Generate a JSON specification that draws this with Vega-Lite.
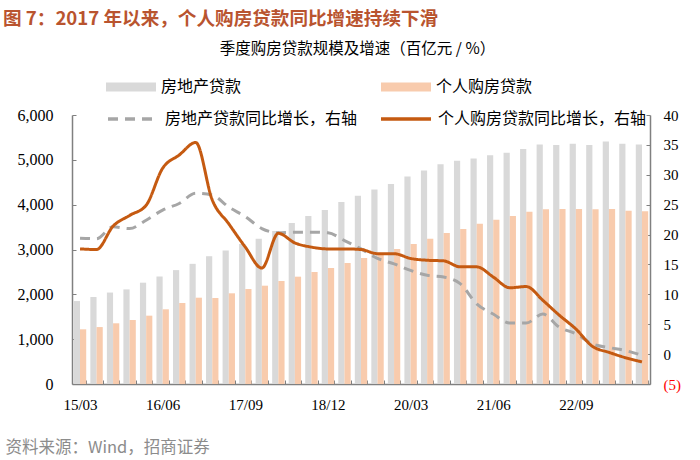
{
  "$schema": "https://vega.github.io/schema/vega-lite/v6.json",
  "width": 578,
  "height": 269,
  "autosize": {"type": "none"},
  "padding": {"left": 72, "top": 115, "right": 50, "bottom": 76},
  "background": "white",
  "config": {
    "view": {"stroke": null},
    "font": "Noto Sans CJK SC"
  },
  "title": {
    "text": "图 7：2017 年以来，个人购房贷款同比增速持续下滑",
    "anchor": "start",
    "frame": "group",
    "dx": -69,
    "offset": 12,
    "font": "Noto Sans CJK SC",
    "fontSize": 18.6,
    "fontWeight": "bold",
    "color": "#b9542f"
  },
  "datasets": {
    "bars": [
      {"q": "15/03", "series": "房地产贷款", "value": 1850}, {"q": "15/03", "series": "个人购房贷款", "value": 1220},
      {"q": "15/06", "series": "房地产贷款", "value": 1940}, {"q": "15/06", "series": "个人购房贷款", "value": 1270},
      {"q": "15/09", "series": "房地产贷款", "value": 2040}, {"q": "15/09", "series": "个人购房贷款", "value": 1354},
      {"q": "15/12", "series": "房地产贷款", "value": 2110}, {"q": "15/12", "series": "个人购房贷款", "value": 1428},
      {"q": "16/03", "series": "房地产贷款", "value": 2260}, {"q": "16/03", "series": "个人购房贷款", "value": 1524},
      {"q": "16/06", "series": "房地产贷款", "value": 2400}, {"q": "16/06", "series": "个人购房贷款", "value": 1666},
      {"q": "16/09", "series": "房地产贷款", "value": 2540}, {"q": "16/09", "series": "个人购房贷款", "value": 1807},
      {"q": "16/12", "series": "房地产贷款", "value": 2680}, {"q": "16/12", "series": "个人购房贷款", "value": 1925},
      {"q": "17/03", "series": "房地产贷款", "value": 2850}, {"q": "17/03", "series": "个人购房贷款", "value": 1918},
      {"q": "17/06", "series": "房地产贷款", "value": 2980}, {"q": "17/06", "series": "个人购房贷款", "value": 2023},
      {"q": "17/09", "series": "房地产贷款", "value": 3120}, {"q": "17/09", "series": "个人购房贷款", "value": 2119},
      {"q": "17/12", "series": "房地产贷款", "value": 3240}, {"q": "17/12", "series": "个人购房贷款", "value": 2193},
      {"q": "18/03", "series": "房地产贷款", "value": 3410}, {"q": "18/03", "series": "个人购房贷款", "value": 2298},
      {"q": "18/06", "series": "房地产贷款", "value": 3590}, {"q": "18/06", "series": "个人购房贷款", "value": 2394},
      {"q": "18/09", "series": "房地产贷款", "value": 3750}, {"q": "18/09", "series": "个人购房贷款", "value": 2498},
      {"q": "18/12", "series": "房地产贷款", "value": 3880}, {"q": "18/12", "series": "个人购房贷款", "value": 2588},
      {"q": "19/03", "series": "房地产贷款", "value": 4060}, {"q": "19/03", "series": "个人购房贷款", "value": 2699},
      {"q": "19/06", "series": "房地产贷款", "value": 4200}, {"q": "19/06", "series": "个人购房贷款", "value": 2811},
      {"q": "19/09", "series": "房地产贷款", "value": 4340}, {"q": "19/09", "series": "个人购房贷款", "value": 2910},
      {"q": "19/12", "series": "房地产贷款", "value": 4460}, {"q": "19/12", "series": "个人购房贷款", "value": 3011},
      {"q": "20/03", "series": "房地产贷款", "value": 4630}, {"q": "20/03", "series": "个人购房贷款", "value": 3123},
      {"q": "20/06", "series": "房地产贷款", "value": 4760}, {"q": "20/06", "series": "个人购房贷款", "value": 3242},
      {"q": "20/09", "series": "房地产贷款", "value": 4900}, {"q": "20/09", "series": "个人购房贷款", "value": 3368},
      {"q": "20/12", "series": "房地产贷款", "value": 4980}, {"q": "20/12", "series": "个人购房贷款", "value": 3458},
      {"q": "21/03", "series": "房地产贷款", "value": 5030}, {"q": "21/03", "series": "个人购房贷款", "value": 3576},
      {"q": "21/06", "series": "房地产贷款", "value": 5100}, {"q": "21/06", "series": "个人购房贷款", "value": 3665},
      {"q": "21/09", "series": "房地产贷款", "value": 5160}, {"q": "21/09", "series": "个人购房贷款", "value": 3748},
      {"q": "21/12", "series": "房地产贷款", "value": 5240}, {"q": "21/12", "series": "个人购房贷款", "value": 3844},
      {"q": "22/03", "series": "房地产贷款", "value": 5340}, {"q": "22/03", "series": "个人购房贷款", "value": 3897},
      {"q": "22/06", "series": "房地产贷款", "value": 5330}, {"q": "22/06", "series": "个人购房贷款", "value": 3904},
      {"q": "22/09", "series": "房地产贷款", "value": 5360}, {"q": "22/09", "series": "个人购房贷款", "value": 3904},
      {"q": "22/12", "series": "房地产贷款", "value": 5330}, {"q": "22/12", "series": "个人购房贷款", "value": 3897},
      {"q": "23/03", "series": "房地产贷款", "value": 5410}, {"q": "23/03", "series": "个人购房贷款", "value": 3904},
      {"q": "23/06", "series": "房地产贷款", "value": 5360}, {"q": "23/06", "series": "个人购房贷款", "value": 3866},
      {"q": "23/09", "series": "房地产贷款", "value": 5340}, {"q": "23/09", "series": "个人购房贷款", "value": 3852}
    ],
    "lines": [
      {"q": "15/03", "series": "房地产贷款同比增长，右轴", "value": 19.4}, {"q": "15/03", "series": "个人购房贷款同比增长，右轴", "value": 17.6},
      {"q": "15/06", "series": "房地产贷款同比增长，右轴", "value": 19.3}, {"q": "15/06", "series": "个人购房贷款同比增长，右轴", "value": 17.5},
      {"q": "15/09", "series": "房地产贷款同比增长，右轴", "value": 21.3}, {"q": "15/09", "series": "个人购房贷款同比增长，右轴", "value": 21.4},
      {"q": "15/12", "series": "房地产贷款同比增长，右轴", "value": 21.0}, {"q": "15/12", "series": "个人购房贷款同比增长，右轴", "value": 23.2},
      {"q": "16/03", "series": "房地产贷款同比增长，右轴", "value": 22.4}, {"q": "16/03", "series": "个人购房贷款同比增长，右轴", "value": 24.9},
      {"q": "16/06", "series": "房地产贷款同比增长，右轴", "value": 24.1}, {"q": "16/06", "series": "个人购房贷款同比增长，右轴", "value": 31.1},
      {"q": "16/09", "series": "房地产贷款同比增长，右轴", "value": 25.2}, {"q": "16/09", "series": "个人购房贷款同比增长，右轴", "value": 33.3},
      {"q": "16/12", "series": "房地产贷款同比增长，右轴", "value": 26.9}, {"q": "16/12", "series": "个人购房贷款同比增长，右轴", "value": 35.4},
      {"q": "17/03", "series": "房地产贷款同比增长，右轴", "value": 26.6}, {"q": "17/03", "series": "个人购房贷款同比增长，右轴", "value": 25.8},
      {"q": "17/06", "series": "房地产贷款同比增长，右轴", "value": 24.6}, {"q": "17/06", "series": "个人购房贷款同比增长，右轴", "value": 21.8},
      {"q": "17/09", "series": "房地产贷款同比增长，右轴", "value": 23.0}, {"q": "17/09", "series": "个人购房贷款同比增长，右轴", "value": 17.9},
      {"q": "17/12", "series": "房地产贷款同比增长，右轴", "value": 21.0}, {"q": "17/12", "series": "个人购房贷款同比增长，右轴", "value": 14.4},
      {"q": "18/03", "series": "房地产贷款同比增长，右轴", "value": 20.3}, {"q": "18/03", "series": "个人购房贷款同比增长，右轴", "value": 20.2},
      {"q": "18/06", "series": "房地产贷款同比增长，右轴", "value": 20.4}, {"q": "18/06", "series": "个人购房贷款同比增长，右轴", "value": 18.6},
      {"q": "18/09", "series": "房地产贷款同比增长，右轴", "value": 20.4}, {"q": "18/09", "series": "个人购房贷款同比增长，右轴", "value": 17.9},
      {"q": "18/12", "series": "房地产贷款同比增长，右轴", "value": 20.3}, {"q": "18/12", "series": "个人购房贷款同比增长，右轴", "value": 17.6},
      {"q": "19/03", "series": "房地产贷款同比增长，右轴", "value": 19.0}, {"q": "19/03", "series": "个人购房贷款同比增长，右轴", "value": 17.6},
      {"q": "19/06", "series": "房地产贷款同比增长，右轴", "value": 17.6}, {"q": "19/06", "series": "个人购房贷款同比增长，右轴", "value": 17.5},
      {"q": "19/09", "series": "房地产贷款同比增长，右轴", "value": 16.0}, {"q": "19/09", "series": "个人购房贷款同比增长，右轴", "value": 16.8},
      {"q": "19/12", "series": "房地产贷款同比增长，右轴", "value": 15.1}, {"q": "19/12", "series": "个人购房贷款同比增长，右轴", "value": 16.8},
      {"q": "20/03", "series": "房地产贷款同比增长，右轴", "value": 14.0}, {"q": "20/03", "series": "个人购房贷款同比增长，右轴", "value": 16.0},
      {"q": "20/06", "series": "房地产贷款同比增长，右轴", "value": 13.2}, {"q": "20/06", "series": "个人购房贷款同比增长，右轴", "value": 15.7},
      {"q": "20/09", "series": "房地产贷款同比增长，右轴", "value": 12.9}, {"q": "20/09", "series": "个人购房贷款同比增长，右轴", "value": 15.6},
      {"q": "20/12", "series": "房地产贷款同比增长，右轴", "value": 11.8}, {"q": "20/12", "series": "个人购房贷款同比增长，右轴", "value": 14.6},
      {"q": "21/03", "series": "房地产贷款同比增长，右轴", "value": 8.4}, {"q": "21/03", "series": "个人购房贷款同比增长，右轴", "value": 14.6},
      {"q": "21/06", "series": "房地产贷款同比增长，右轴", "value": 6.7}, {"q": "21/06", "series": "个人购房贷款同比增长，右轴", "value": 12.9},
      {"q": "21/09", "series": "房地产贷款同比增长，右轴", "value": 5.2}, {"q": "21/09", "series": "个人购房贷款同比增长，右轴", "value": 11.1},
      {"q": "21/12", "series": "房地产贷款同比增长，右轴", "value": 5.2}, {"q": "21/12", "series": "个人购房贷款同比增长，右轴", "value": 11.3},
      {"q": "22/03", "series": "房地产贷款同比增长，右轴", "value": 6.7}, {"q": "22/03", "series": "个人购房贷款同比增长，右轴", "value": 9.0},
      {"q": "22/06", "series": "房地产贷款同比增长，右轴", "value": 4.5}, {"q": "22/06", "series": "个人购房贷款同比增长，右轴", "value": 6.5},
      {"q": "22/09", "series": "房地产贷款同比增长，右轴", "value": 3.4}, {"q": "22/09", "series": "个人购房贷款同比增长，右轴", "value": 4.2},
      {"q": "22/12", "series": "房地产贷款同比增长，右轴", "value": 1.7}, {"q": "22/12", "series": "个人购房贷款同比增长，右轴", "value": 1.3},
      {"q": "23/03", "series": "房地产贷款同比增长，右轴", "value": 1.1}, {"q": "23/03", "series": "个人购房贷款同比增长，右轴", "value": 0.3},
      {"q": "23/06", "series": "房地产贷款同比增长，右轴", "value": 0.6}, {"q": "23/06", "series": "个人购房贷款同比增长，右轴", "value": -0.6},
      {"q": "23/09", "series": "房地产贷款同比增长，右轴", "value": -0.2}, {"q": "23/09", "series": "个人购房贷款同比增长，右轴", "value": -1.3}
    ]
  },
  "layer": [
    {
      "data": {"name": "bars"},
      "mark": {"type": "bar"},
      "encoding": {
        "x": {
          "field": "q",
          "type": "ordinal",
          "sort": null,
          "scale": {"type": "band", "paddingInner": 0.25, "paddingOuter": 0.11},
          "axis": {
            "orient": "bottom",
            "labelExpr": "indexof(['15/03','16/06','17/09','18/12','20/03','21/06','22/09'], datum.value) >= 0 ? datum.value : ''",
            "labelAngle": 0,
            "labelFont": "Liberation Serif",
            "labelFontSize": 15,
            "labelColor": "#000000",
            "labelPadding": 17,
            "tickBand": "extent",
            "tickSize": -4,
            "tickColor": "#808080",
            "domainColor": "#808080",
            "domainWidth": 1.5,
            "title": "资料来源：Wind，招商证券",
            "titleFont": "Noto Sans CJK SC",
            "titleFontSize": 16.5,
            "titleFontWeight": "normal",
            "titleColor": "#8c8c8c",
            "titleAlign": "left",
            "titleAnchor": "start",
            "titleBaseline": "middle",
            "titleX": -67,
            "titleY": 63
          }
        },
        "xOffset": {
          "field": "series",
          "type": "nominal",
          "sort": ["房地产贷款", "个人购房贷款"],
          "scale": {"paddingInner": 0, "paddingOuter": 0}
        },
        "y": {
          "field": "value",
          "type": "quantitative",
          "scale": {"domain": [0, 6000], "nice": false},
          "axis": {
            "orient": "left",
            "values": [0, 1000, 2000, 3000, 4000, 5000, 6000],
            "format": ",.0f",
            "grid": false,
            "title": null,
            "labelFont": "Liberation Serif",
            "labelFontSize": 16,
            "labelColor": "#000000",
            "labelPadding": 23,
            "tickSize": -4,
            "tickColor": "#808080",
            "domainColor": "#808080",
            "domainWidth": 1.5
          }
        },
        "fill": {
          "field": "series",
          "type": "nominal",
          "scale": {"domain": ["房地产贷款", "个人购房贷款"], "range": ["#d9d9d9", "#f8cbad"]},
          "legend": {
            "title": null,
            "orient": "none",
            "legendX": 34,
            "legendY": -53,
            "direction": "horizontal",
            "columns": 2,
            "columnPadding": 123,
            "gridAlign": "all",
            "symbolType": "M-1,-0.18H1V0.18H-1Z",
            "symbolSize": 2500,
            "symbolStrokeWidth": 0,
            "labelFont": "Noto Sans CJK SC",
            "labelFontSize": 16,
            "labelLimit": 400,
            "labelColor": "#000000",
            "labelOffset": 5
          }
        }
      }
    },
    {
      "data": {"name": "lines"},
      "mark": {"type": "line", "interpolate": "monotone", "strokeWidth": 3},
      "encoding": {
        "x": {
          "field": "q",
          "type": "ordinal",
          "sort": null,
          "scale": {"type": "band", "paddingInner": 0.25, "paddingOuter": 0.11},
          "axis": {
            "orient": "top",
            "labels": false,
            "ticks": false,
            "domain": false,
            "title": "季度购房贷款规模及增速（百亿元 / %）",
            "titleFont": "Noto Sans CJK SC",
            "titleFontSize": 15.5,
            "titleFontWeight": "normal",
            "titleColor": "#000000",
            "titleAlign": "center",
            "titleBaseline": "middle",
            "titleX": 285,
            "titleY": -67
          }
        },
        "y": {
          "field": "value",
          "type": "quantitative",
          "scale": {"domain": [-5, 40], "nice": false},
          "axis": {
            "orient": "right",
            "values": [-5, 0, 5, 10, 15, 20, 25, 30, 35, 40],
            "labelExpr": "datum.value < 0 ? '(' + abs(datum.value) + ')' : datum.value",
            "labelColor": {"condition": {"test": "datum.value < 0", "value": "#ff0000"}, "value": "#000000"},
            "grid": false,
            "title": null,
            "labelFont": "Liberation Serif",
            "labelFontSize": 15,
            "labelPadding": 17,
            "tickSize": -4,
            "tickColor": "#808080",
            "domainColor": "#808080",
            "domainWidth": 1.5
          }
        },
        "stroke": {
          "field": "series",
          "type": "nominal",
          "scale": {"domain": ["房地产贷款同比增长，右轴", "个人购房贷款同比增长，右轴"], "range": ["#a6a6a6", "#c55a11"]},
          "legend": {
            "title": null,
            "orient": "none",
            "legendX": 34,
            "legendY": -23,
            "direction": "horizontal",
            "columns": 2,
            "columnPadding": 0,
            "gridAlign": "all",
            "symbolType": "stroke",
            "symbolSize": 2500,
            "symbolStrokeWidth": 3.5,
            "labelFont": "Noto Sans CJK SC",
            "labelFontSize": 16,
            "labelLimit": 400,
            "labelColor": "#000000",
            "labelOffset": 5
          }
        },
        "strokeDash": {
          "field": "series",
          "type": "nominal",
          "scale": {"domain": ["房地产贷款同比增长，右轴", "个人购房贷款同比增长，右轴"], "range": [[10, 7], [1, 0]]},
          "legend": {
            "title": null,
            "orient": "none",
            "legendX": 34,
            "legendY": -23,
            "direction": "horizontal",
            "columns": 2,
            "columnPadding": 0,
            "gridAlign": "all",
            "symbolType": "stroke",
            "symbolSize": 2500,
            "symbolStrokeWidth": 3.5,
            "labelFont": "Noto Sans CJK SC",
            "labelFontSize": 16,
            "labelLimit": 400,
            "labelColor": "#000000",
            "labelOffset": 5
          }
        }
      }
    }
  ],
  "resolve": {
    "scale": {"y": "independent"},
    "axis": {"x": "independent", "y": "independent"}
  }
}
